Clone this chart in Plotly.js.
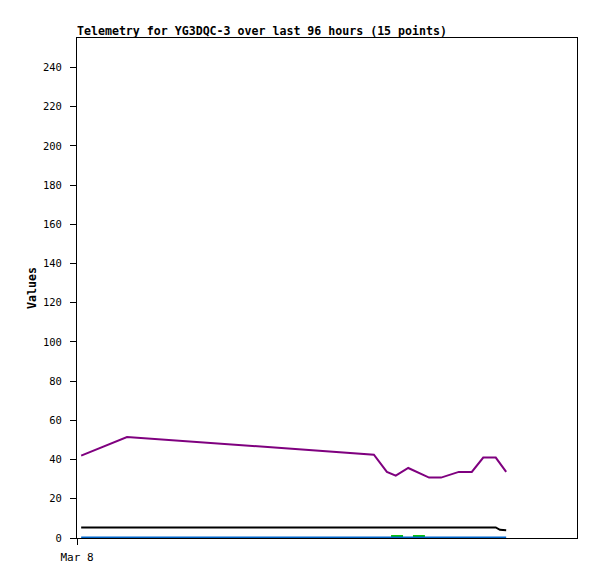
<!DOCTYPE html>
<html><head><meta charset="utf-8">
<script src="https://cdn.plot.ly/plotly-3.0.1.min.js"></script>
<style>body{margin:0;background:#fff}#c{width:597px;height:579px}</style>
</head><body><div id="c"></div>
<script>
// hours since Mar 8 00:00
var purpleHours = [0.8, 9.6, 57.0, 59.5, 61.2, 63.6, 67.6, 69.9, 73.3, 75.8, 78.0, 80.4, 82.4];
var purpleValues = [42, 51.5, 42.5, 33.7, 31.8, 35.7, 30.8, 30.8, 33.7, 33.7, 41, 41, 33.7];
var blackHours = [0.8, 80.4, 81.2, 82.4];
var blackValues = [5.4, 5.4, 4.2, 4.0];
var blueHours = [0.8, 82.4];
var blueValues = [0.3, 0.3];
var greenHours = [60.3, 62.6, 63.5, 64.5, 66.8];
var greenValues = [1.0, 1.0, null, 1.0, 1.0];
var xTickVals = [0];
var xTickText = ["Mar 8"];
var yTicks = [0,20,40,60,80,100,120,140,160,180,200,220,240];

var mono = "DejaVu Sans Mono, monospace";
var traces = [
  {x: greenHours, y: greenValues, mode: "lines", line: {color: "#00c000", width: 2}, connectgaps: false},
  {x: blueHours, y: blueValues, mode: "lines", line: {color: "#0066cc", width: 2}},
  {x: blackHours, y: blackValues, mode: "lines", line: {color: "#000000", width: 2}},
  {x: purpleHours, y: purpleValues, mode: "lines", line: {color: "#7f007f", width: 2}}
];
var layout = {
  width: 597, height: 579,
  margin: {l: 77, r: 20, t: 38, b: 41},
  paper_bgcolor: "#fff", plot_bgcolor: "#fff",
  showlegend: false,
  font: {family: mono, size: 10, color: "#000"},
  title: {text: "<b>Telemetry for YG3DQC-3 over last 96 hours (15 points)</b>",
          font: {family: mono, size: 11.6, color: "#000"},
          x: 77/597, xref: "container", xanchor: "left",
          y: 1 - 31/579, yref: "container", yanchor: "middle"},
  xaxis: {range: [0, 96], showgrid: false, zeroline: false,
          showline: true, linecolor: "#000", linewidth: 1, mirror: true,
          ticks: "outside", ticklen: 6, tickcolor: "#000",
          tickvals: xTickVals, ticktext: xTickText, ticklabelstandoff: 3,
          tickfont: {family: mono, size: 11}},
  yaxis: {range: [0, 255], showgrid: false, zeroline: false,
          showline: true, linecolor: "#000", linewidth: 1, mirror: true,
          ticks: "outside", ticklen: 6, tickcolor: "#000",
          tickvals: yTicks, ticklabelstandoff: 6,
          tickfont: {family: mono, size: 10.5},
          title: {text: "<b>Values</b>", font: {family: mono, size: 11.6}, standoff: 3}}
};
Plotly.newPlot("c", traces, layout, {staticPlot: true});
</script></body></html>
